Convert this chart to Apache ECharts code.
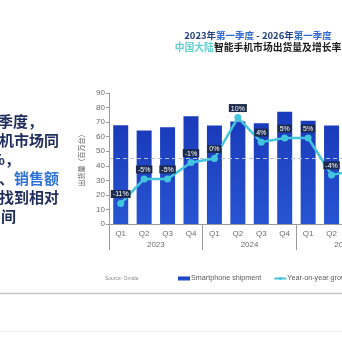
<!DOCTYPE html>
<html>
<head>
<meta charset="utf-8">
<script src="https://cdn.jsdelivr.net/npm/echarts@6/dist/echarts.min.js"></script>
<style>
  html, body { margin: 0; padding: 0; background: #fff; overflow: hidden; width: 342px; height: 342px; }
  #chart { width: 400px; height: 342px; }
</style>
</head>
<body>
<div id="chart"></div>
<script>
// Quarterly shipments (millions of units) and year-on-year growth (%)
const quarters = ['Q1', 'Q2', 'Q3', 'Q4', 'Q1', 'Q2', 'Q3', 'Q4', 'Q1', 'Q2', 'Q3'];
const years = ['2023', '2024', '2025'];
const shipments = [67.8, 64.2, 66.4, 74.0, 67.7, 70.5, 69.2, 77.2, 71.0, 67.6, 68.4];
const yoyGrowth = [-11, -5, -5, -1, 0, 10, 4, 5, 5, -4, -3];
const shipmentTicks = [0, 10, 20, 30, 40, 50, 60, 70, 80, 90];

const chart = echarts.init(document.getElementById('chart'), null, { renderer: 'canvas' });
const axisGrey = '#9a9a9a';
const labelGrey = '#6b6b6b';
const sans = 'Liberation Sans, Arial, sans-serif';
const cjk = 'Noto Sans CJK SC, sans-serif';
const quarterCount = quarters.length;
const slideFont = 'bold 15px "Noto Sans CJK SC"';

chart.setOption({
  animation: false,
  backgroundColor: '#ffffff',
  title: {
    left: 253,
    top: 26,
    textAlign: 'center',
    itemGap: 2,
    text: '{n|2023年}{b|第一季度}{n| - 2026年}{b|第一季度}',
    textStyle: {
      rich: {
        n: { color: '#23407c', fontSize: 9.5, fontWeight: 'bold', fontFamily: cjk },
        b: { color: '#3169d2', fontSize: 9.5, fontWeight: 'bold', fontFamily: cjk }
      }
    },
    subtext: '{c|中国大陆}{k|智能手机市场出货量及增长率}',
    subtextStyle: {
      rich: {
        c: { color: '#62cfd2', fontSize: 9.8, fontWeight: 'bold', fontFamily: cjk },
        k: { color: '#1b1b1b', fontSize: 9.8, fontWeight: 'bold', fontFamily: cjk }
      }
    }
  },
  legend: {
    left: 178,
    top: 275,
    padding: 0,
    itemWidth: 12,
    itemHeight: 4,
    itemGap: 12,
    textStyle: { color: '#5a5a5a', fontSize: 7.2, fontFamily: sans, padding: [0, 0, 0, -4] },
    data: [
      { name: 'Smartphone shipment', icon: 'rect' },
      { name: 'Year-on-year growth' }
    ]
  },
  grid: { left: 109, top: 93, width: 257.7, height: 131 },
  xAxis: [
    {
      type: 'category',
      data: quarters,
      position: 'bottom',
      axisLine: { show: true, onZero: false, lineStyle: { color: axisGrey, width: 1 } },
      axisTick: { show: false },
      axisLabel: { color: labelGrey, fontSize: 8, fontFamily: sans, margin: 6 }
    },
    {
      // year dividers
      type: 'value',
      min: 0,
      max: quarterCount,
      interval: 4,
      position: 'bottom',
      axisLine: { show: false, onZero: false },
      axisTick: { show: true, length: 26, lineStyle: { color: axisGrey, width: 1 } },
      axisLabel: { show: false },
      splitLine: { show: false }
    },
    {
      // year labels centred under each group of four quarters
      type: 'value',
      min: 0,
      max: quarterCount,
      interval: 2,
      position: 'bottom',
      axisLine: { show: false, onZero: false },
      axisTick: { show: false },
      splitLine: { show: false },
      axisLabel: {
        color: labelGrey, fontSize: 8, fontFamily: sans, margin: 17,
        showMinLabel: true, showMaxLabel: true,
        formatter: v => (v % 4 === 2 ? years[(v - 2) / 4] || '' : '')
      }
    }
  ],
  yAxis: [
    {
      type: 'value',
      min: shipmentTicks[0],
      max: shipmentTicks[shipmentTicks.length - 1],
      interval: 10,
      name: '出货量（百万台）',
      nameLocation: 'middle',
      nameRotate: 90,
      nameGap: 19,
      nameTextStyle: { color: '#555', fontSize: 7, fontFamily: cjk },
      axisLine: { show: true, onZero: false, lineStyle: { color: axisGrey, width: 1 } },
      axisTick: { show: true, length: 3, lineStyle: { color: axisGrey } },
      axisLabel: { color: labelGrey, fontSize: 8, fontFamily: sans, margin: 4 },
      splitLine: { show: false }
    },
    {
      type: 'value',
      min: -16,
      max: 16,
      show: false,
      splitLine: { show: false }
    }
  ],
  series: [
    {
      name: 'Smartphone shipment',
      type: 'bar',
      data: shipments,
      barWidth: 15,
      itemStyle: {
        color: new echarts.graphic.LinearGradient(0, 0, 0, 1, [
          { offset: 0, color: '#1a3bbb' },
          { offset: 1, color: '#2754d2' }
        ])
      }
    },
    {
      name: 'Year-on-year growth',
      type: 'line',
      yAxisIndex: 1,
      data: yoyGrowth,
      symbol: 'circle',
      symbolSize: 7,
      z: 5,
      lineStyle: { color: '#43c5dd', width: 2.5 },
      itemStyle: { color: '#43c5dd' },
      label: {
        show: true,
        position: 'top',
        distance: 2,
        formatter: '{c}%',
        color: '#ffffff',
        fontSize: 7,
        fontFamily: sans,
        backgroundColor: '#1b2a4e',
        padding: [1, 2, 0, 2]
      },
      markLine: {
        silent: true,
        symbol: 'none',
        label: { show: false },
        lineStyle: { color: '#b7c2d8', type: [4, 3], width: 1 },
        data: [{ yAxis: 0 }]
      }
    }
  ],
  graphic: [
    // slide text beside the chart
    { type: 'text', right: 400 - 43, top: 114, style: { text: '季度，', fill: '#1f2d5c', font: slideFont } },
    { type: 'text', right: 400 - 59, top: 133, style: { text: '机市场同', fill: '#1f2d5c', font: slideFont } },
    { type: 'text', right: 400 - 20, top: 152, style: { text: '%，', fill: '#1f2d5c', font: slideFont } },
    { type: 'text', right: 400 - 59, top: 171, style: {
      text: '{d|、}{h|销售额}',
      rich: {
        d: { fill: '#1f2d5c', font: slideFont },
        h: { fill: '#2f73d8', font: slideFont }
      }
    } },
    { type: 'text', right: 400 - 59, top: 190, style: { text: '找到相对', fill: '#1f2d5c', font: slideFont } },
    { type: 'text', right: 400 - 16, top: 209, style: { text: '间', fill: '#1f2d5c', font: slideFont } },
    { type: 'text', left: 105, top: 276, style: { text: 'Source: Omdia', fill: '#8a8a8a', font: '5px "Liberation Sans"' } },
    { type: 'line', shape: { x1: 0, y1: 293.5, x2: 400, y2: 293.5 }, style: { stroke: '#c8c8c8', lineWidth: 1.5 } },
    { type: 'line', shape: { x1: 0, y1: 331.5, x2: 400, y2: 331.5 }, style: { stroke: '#f1f1f1', lineWidth: 1 } }
  ]
});
</script>
</body>
</html>
